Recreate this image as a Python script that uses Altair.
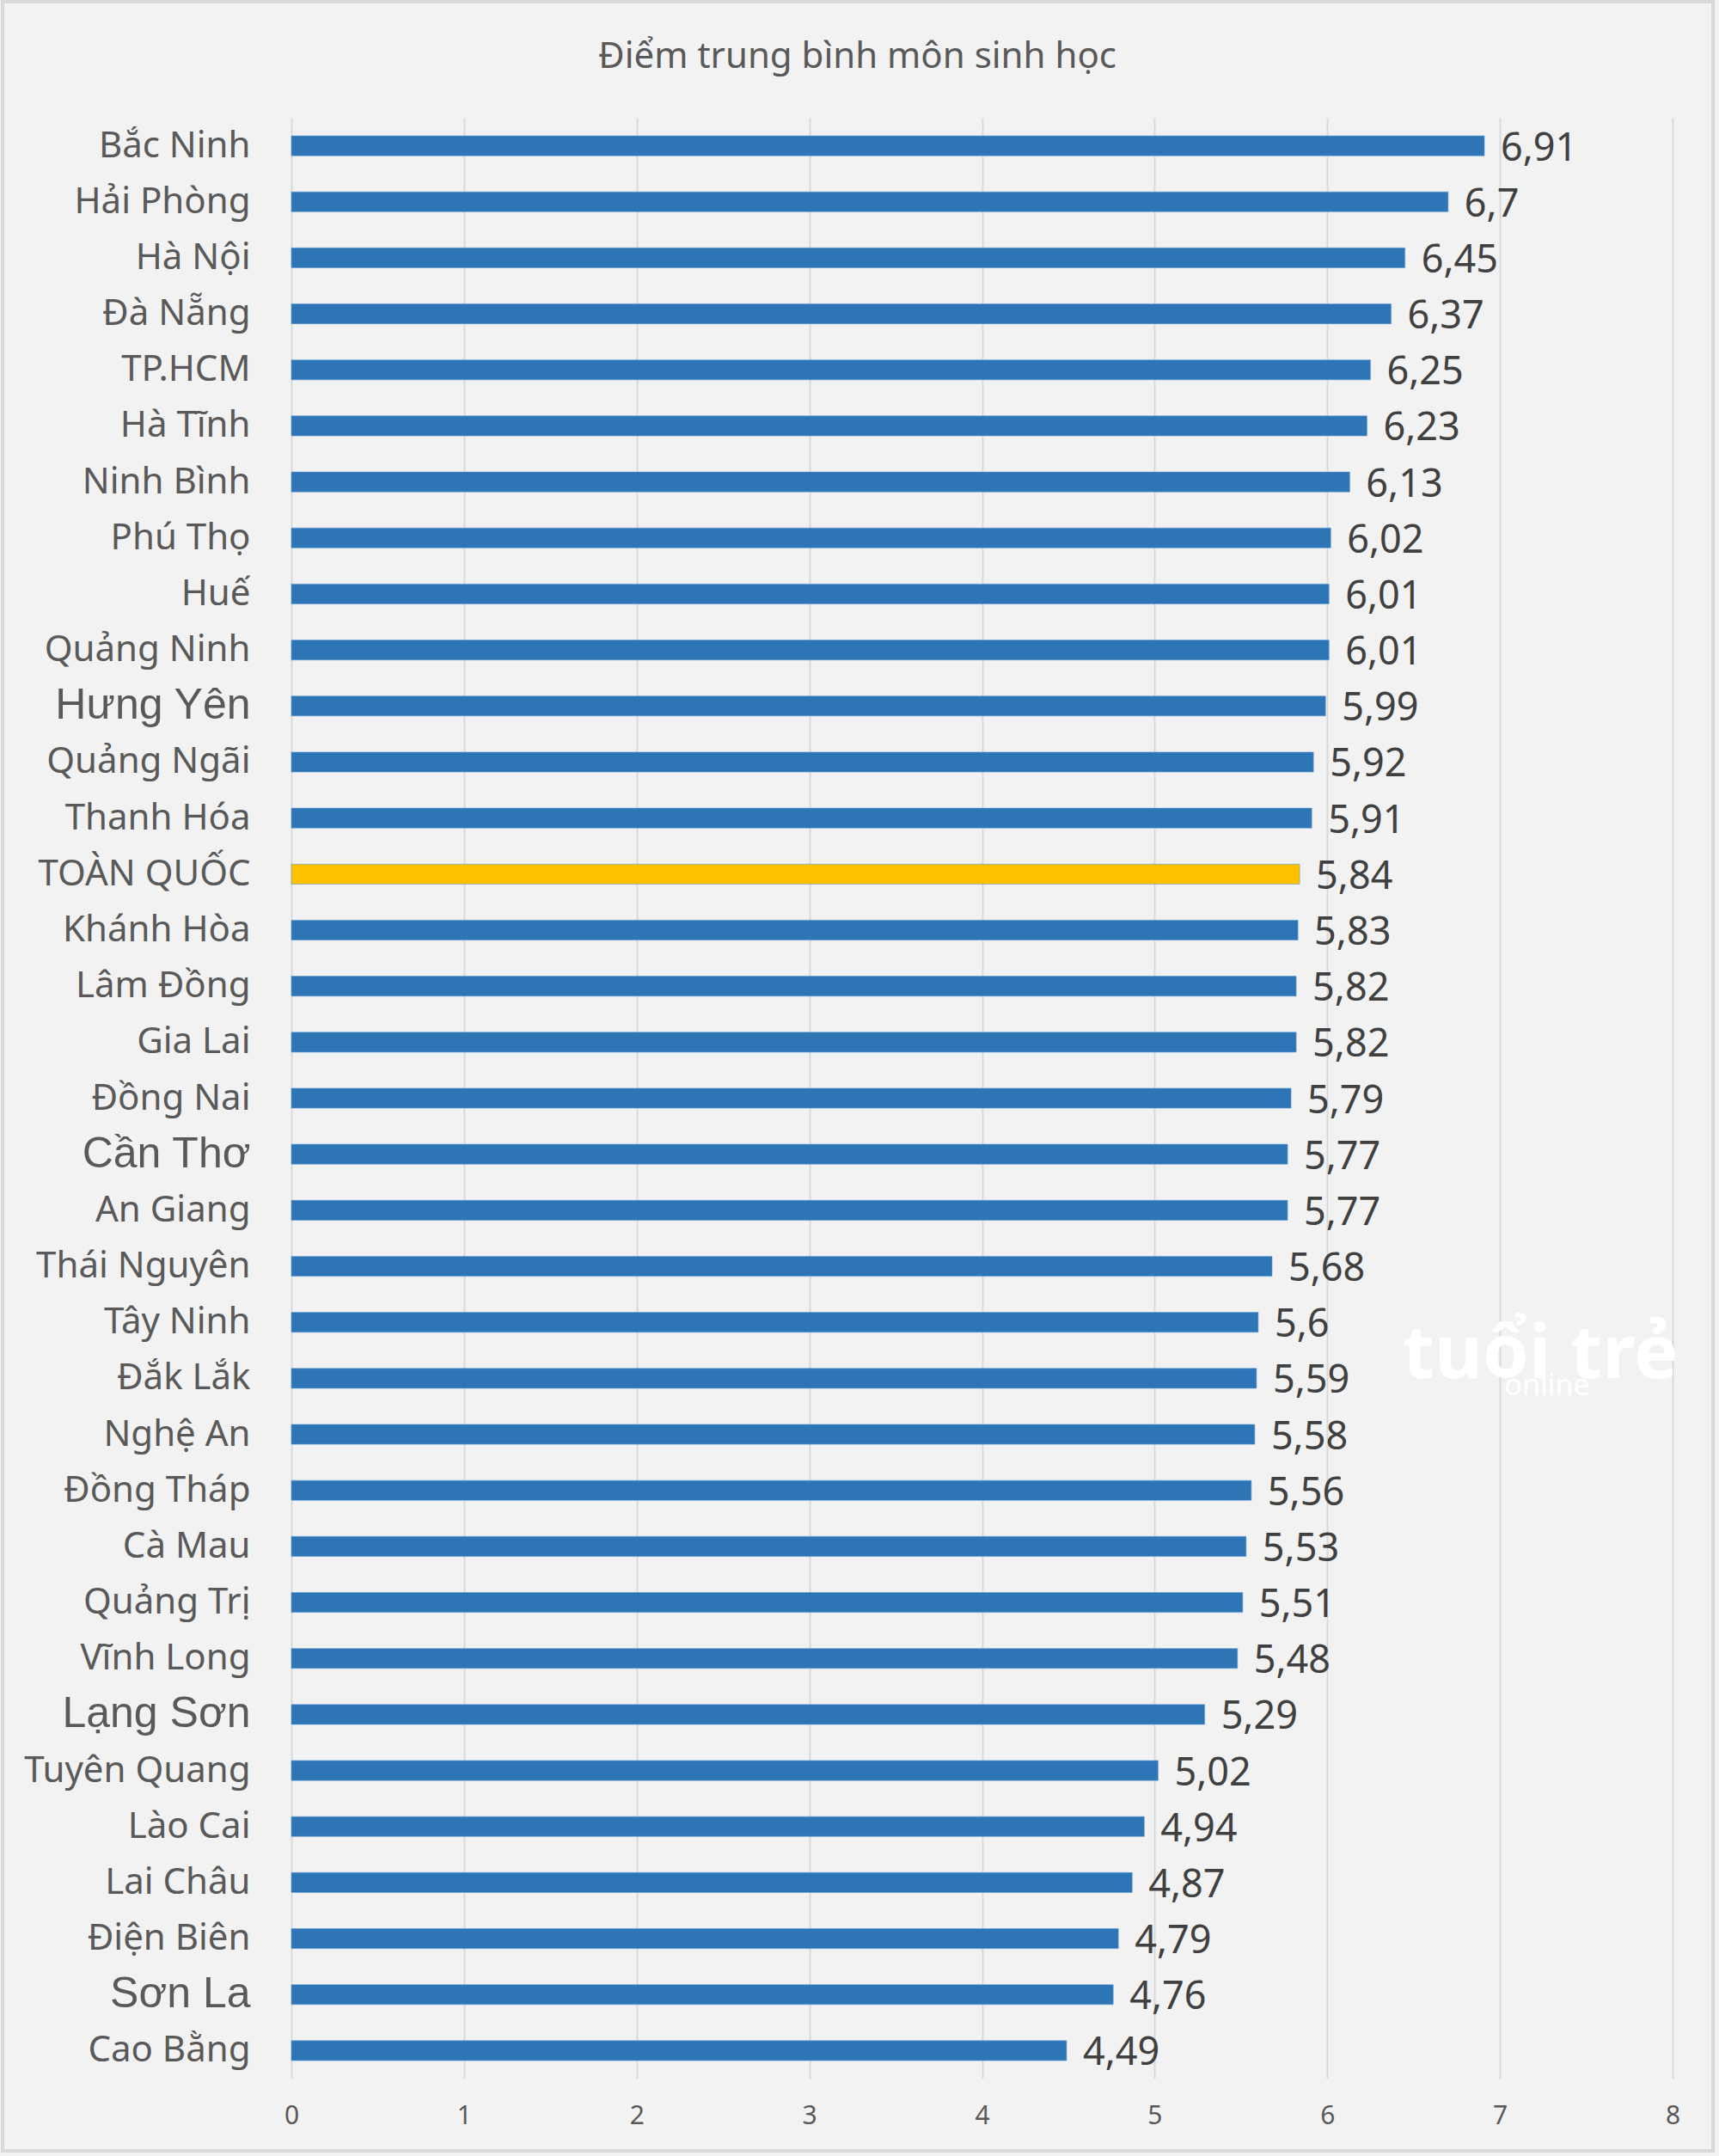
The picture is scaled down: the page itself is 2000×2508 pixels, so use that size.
import altair as alt
import pandas as pd

# Average biology exam score by province
regions = [
    "Bắc Ninh", "Hải Phòng", "Hà Nội", "Đà Nẵng", "TP.HCM", "Hà Tĩnh",
    "Ninh Bình", "Phú Thọ", "Huế", "Quảng Ninh", "Hưng Yên", "Quảng Ngãi",
    "Thanh Hóa", "TOÀN QUỐC", "Khánh Hòa", "Lâm Đồng", "Gia Lai", "Đồng Nai",
    "Cần Thơ", "An Giang", "Thái Nguyên", "Tây Ninh", "Đắk Lắk", "Nghệ An",
    "Đồng Tháp", "Cà Mau", "Quảng Trị", "Vĩnh Long", "Lạng Sơn",
    "Tuyên Quang", "Lào Cai", "Lai Châu", "Điện Biên", "Sơn La", "Cao Bằng",
]
scores = [
    6.91, 6.7, 6.45, 6.37, 6.25, 6.23,
    6.13, 6.02, 6.01, 6.01, 5.99, 5.92,
    5.91, 5.84, 5.83, 5.82, 5.82, 5.79,
    5.77, 5.77, 5.68, 5.6, 5.59, 5.58,
    5.56, 5.53, 5.51, 5.48, 5.29,
    5.02, 4.94, 4.87, 4.79, 4.76, 4.49,
]
x_ticks = [0, 1, 2, 3, 4, 5, 6, 7, 8]
national = "TOÀN QUỐC"
big_labels = ["Hưng Yên", "Cần Thơ", "Lạng Sơn", "Sơn La"]

df = pd.DataFrame({"region": regions, "score": scores})
df["label"] = [str(v).replace(".", ",") for v in scores]

FONT = "Noto Sans"
GREY = "#595959"
big_test = "indexof([" + ",".join("'" + b + "'" for b in big_labels) + "], datum.value) >= 0"

x_enc = alt.X(
    "score:Q",
    scale=alt.Scale(domain=[0, 8], nice=False, zero=True),
    axis=alt.Axis(
        values=x_ticks, format="d", title=None, domain=False, ticks=False,
        grid=True, gridColor="#d9d9d9", gridWidth=2, labelFlush=False,
        labelFont=FONT, labelFontSize=30, labelColor=GREY, labelPadding=28,
    ),
)
y_enc = alt.Y(
    "region:N",
    sort=regions,
    scale=alt.Scale(paddingInner=0.645, paddingOuter=0.3225),
    axis=alt.Axis(
        title=None, domain=False, ticks=False, grid=False,
        labelFont={"condition": {"test": big_test, "value": "Liberation Sans"}, "value": FONT},
        labelFontSize={"condition": {"test": big_test, "value": 50}, "value": 42},
        labelColor=GREY, labelPadding=48, labelLimit=400,
    ),
)

bars = alt.Chart(df).mark_bar(stroke="#5b9bd5", strokeWidth=1, strokeOpacity=0.6).encode(
    x=x_enc,
    y=y_enc,
    color=alt.condition(
        alt.datum.region == national, alt.value("#ffc000"), alt.value("#2e75b6")
    ),
)

values = alt.Chart(df).mark_text(
    align="left", baseline="middle", dx=19, dy=3,
    font=FONT, fontSize=45, color="#404040",
).encode(x="score:Q", y=alt.Y("region:N", sort=regions), text="label:N")

# faint publisher watermark
wm_main = alt.Chart(df.head(1)).mark_text(
    text="tuổi trẻ", font=FONT, fontSize=86, fontWeight="bold", color="#ffffff",
    align="center", baseline="middle",
).encode(x=alt.value(1453), y=alt.value(1440))
wm_sub = alt.Chart(df.head(1)).mark_text(
    text="online", font=FONT, fontSize=34, color="#ffffff",
    align="center", baseline="middle",
).encode(x=alt.value(1461), y=alt.value(1476))

# outer frame around the whole figure
frame = alt.Chart(df.head(1)).mark_rect(
    fill=None, stroke="#d9d9d9", strokeWidth=4
).encode(
    x=alt.value(-336), x2=alt.value(1654), y=alt.value(-135), y2=alt.value(2365)
)

chart = alt.layer(frame, bars, values, wm_main, wm_sub).properties(
    width=1607,
    height=2281,
    padding={"left": 339, "top": 137, "right": 54, "bottom": 90},
    autosize=alt.AutoSizeParams(type="none"),
    background="#f2f2f2",
    title=alt.TitleParams(
        "Điểm trung bình môn sinh học",
        font=FONT, fontSize=42, fontWeight="normal", color=GREY,
        anchor="middle", frame="group", dx=-145, offset=0, dy=88,
    ),
).configure_view(stroke=None)

chart.save("out.html", embed_options={"renderer": "svg", "actions": False})
